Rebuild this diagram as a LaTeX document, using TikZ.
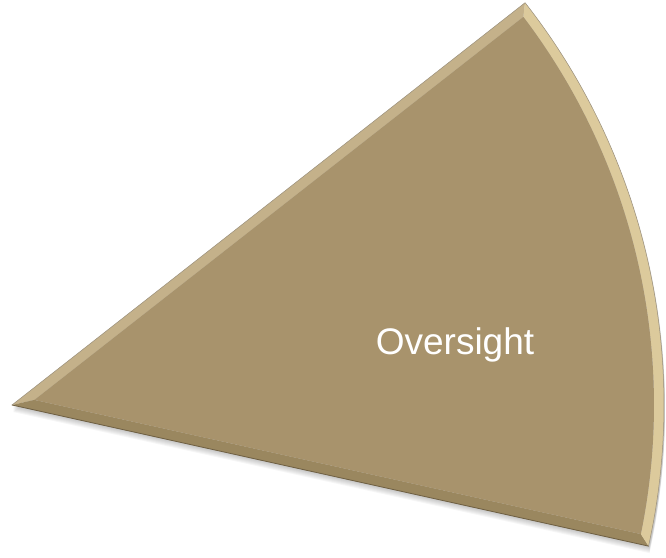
\documentclass[tikz,border=0pt]{standalone}
\usepackage{fontspec}
\setmainfont{Liberation Sans}
\usetikzlibrary{calc}
\definecolor{slice}{HTML}{A8936C}
\definecolor{bevtop}{HTML}{C4B18A}
\definecolor{bevarc}{HTML}{DCCA9C}
\definecolor{bevbot}{HTML}{9A875F}
\definecolor{rimdark}{HTML}{6E5F42}
\begin{document}
\begin{tikzpicture}[x=1pt, y=1pt, line join=round, line cap=round]
	\def\ra{652} \def\rb{642} % outer and inner radius
	\def\aa{38.1} \def\ab{-12.5} % edge angles
	\def\ia{37.2} \def\ib{-11.6} % inner edge angles
	\useasboundingbox (0,0) rectangle (666,557);
	\coordinate (C) at (12,152);
	\coordinate (T) at ($(C)+(\aa:\ra)$);
	\coordinate (B) at ($(C)+(\ab:\ra)$);
	\coordinate (Ai) at ($(C)+(12.8:23)$);
	\coordinate (Ti) at ($(C)+(\ia:\rb)$);
	\coordinate (Bi) at ($(C)+(\ib:\rb)$);
	% soft shadow
	\foreach \k in {1,...,7}
		\fill[black, opacity=.035] ($(C)+(1,-\k)$) -- ++(\ab:\ra) arc[start angle=\ab, end angle=\aa, radius=\ra] -- cycle;
	% bevel
	\fill[bevtop] (C) -- (T) -- (Ti) -- (Ai) -- cycle;
	\fill[bevbot] (C) -- (B) -- (Bi) -- (Ai) -- cycle;
	\fill[bevarc] (T) arc[start angle=\aa, end angle=\ab, radius=\ra] -- (Bi) arc[start angle=\ib, end angle=\ia, radius=\rb] -- cycle;
	% face
	\fill[slice] (Ai) -- (Bi) arc[start angle=\ib, end angle=\ia, radius=\rb] -- cycle;
	\draw[rimdark, line width=.8] (C) -- (B);
	\draw[rimdark!70, line width=.5] (B) arc[start angle=\ab, end angle=\aa, radius=\ra] -- (C);
	\node[text=white, font=\fontsize{37}{40}\selectfont] (lbl) at (455,212) {Oversight};
\end{tikzpicture}
\end{document}
